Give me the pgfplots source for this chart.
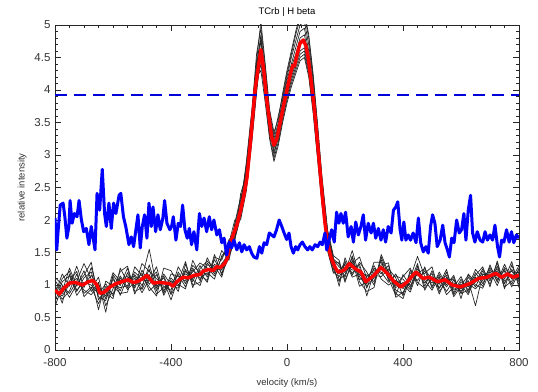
\documentclass[border=0pt]{standalone}
\usepackage{pgfplots}
\usepackage{pgfplotstable}
\pgfplotsset{compat=1.18}
\usepackage{fontspec}
\setmainfont{Liberation Sans}
\definecolor{ticktext}{RGB}{51,51,51}

\pgfplotstableread{
v b1 b2 b3 b4 b5 b6 b7 b8 b9 b10
-800 0.74 0.96 1.07 0.86 0.67 1.01 0.89 1.12 0.82 0.94
-775 1.05 0.78 0.90 1.17 0.98 0.72 0.87 1.00 1.10 0.83
-750 1.14 0.91 1.26 0.98 0.87 1.17 1.06 0.81 1.21 1.01
-725 0.90 1.17 0.98 1.29 1.06 0.84 1.21 1.01 0.92 1.10
-700 1.11 0.87 1.22 0.96 1.33 1.00 0.82 1.15 1.04 0.92
-675 1.20 0.97 0.90 1.27 1.09 1.15 0.94 1.35 1.00 0.85
-650 0.82 0.71 1.04 0.89 0.62 0.96 1.12 0.77 0.86 1.01
-625 0.76 0.98 0.58 0.88 1.06 0.83 0.68 0.94 1.02 0.79
-600 1.09 0.86 1.16 0.79 0.98 1.19 0.94 1.01 0.83 1.13
-575 0.91 1.14 0.99 1.26 0.87 1.06 1.21 0.96 1.11 0.84
-550 1.19 0.96 1.26 1.04 0.89 1.14 1.29 0.99 0.93 1.11
-525 0.95 1.16 0.86 1.10 1.28 0.98 0.90 1.20 1.05 1.13
-500 1.23 0.99 1.11 0.88 1.14 1.33 0.96 1.08 1.18 0.93
-475 1.01 1.24 1.55 1.09 0.97 1.21 1.31 1.06 0.91 1.16
-450 1.16 0.91 0.98 1.20 0.83 1.10 0.95 1.28 1.01 0.86
-425 0.91 1.14 1.06 0.84 1.26 0.98 1.17 0.87 1.11 0.96
-400 1.11 0.87 0.77 1.07 1.22 0.92 1.00 1.17 0.85 1.02
-375 0.98 1.20 1.10 0.90 1.01 1.28 0.95 1.13 1.05 1.16
-350 1.24 1.02 1.17 1.32 0.94 1.09 1.21 1.06 1.36 0.97
-325 1.05 1.26 1.10 1.00 1.38 1.20 1.08 1.30 0.96 1.23
-300 1.30 1.07 1.22 1.04 1.15 1.34 0.99 1.19 1.25 1.10
-275 1.12 1.34 1.16 1.42 1.07 1.26 1.31 1.04 1.37 1.19
-250 1.39 1.17 1.32 1.20 1.47 1.14 1.29 1.43 1.24 1.09
-225 1.18 1.42 1.23 1.53 1.15 1.33 1.12 1.38 1.30 1.45
-200 1.42 1.60 1.55 1.38 1.65 1.48 1.52 1.70 1.45 1.58
-180 1.70 1.92 1.75 1.85 2.00 1.68 1.88 1.78 1.95 1.72
-160 2.05 2.30 2.10 2.25 2.00 2.40 2.15 2.20 2.35 2.08
-140 2.50 2.75 2.55 2.85 2.45 2.70 2.65 2.90 2.58 2.80
-120 3.30 3.60 3.40 3.70 3.25 3.55 3.50 3.75 3.35 3.65
-105 4.05 4.35 4.10 4.45 3.95 4.30 4.20 4.55 4.00 4.40
-90 4.50 4.85 4.40 5.05 4.60 4.75 4.30 4.95 4.55 4.80
-75 3.95 4.25 3.90 4.40 4.00 4.20 3.80 4.35 4.10 4.15
-60 3.40 3.60 3.30 3.70 3.35 3.55 3.25 3.65 3.50 3.45
-45 3.05 3.25 2.95 3.35 3.10 3.20 2.90 3.30 3.15 3.00
-30 3.25 3.50 3.20 3.55 3.30 3.45 3.15 3.60 3.40 3.28
-15 3.60 3.85 3.55 3.95 3.65 3.80 3.50 3.90 3.75 3.62
0 3.90 4.20 3.85 4.30 3.95 4.15 3.80 4.25 4.05 3.92
15 4.15 4.50 4.10 4.60 4.25 4.40 4.05 4.55 4.35 4.20
30 4.35 4.75 4.30 4.90 4.45 4.65 4.25 4.85 4.55 4.40
45 4.55 5.00 4.50 5.15 4.70 4.90 4.45 5.10 4.80 4.60
60 4.60 5.05 4.55 5.20 4.75 4.95 4.50 5.15 4.85 4.65
75 4.30 4.70 4.25 4.85 4.45 4.60 4.20 4.80 4.50 4.35
90 3.75 4.15 3.70 4.25 3.85 4.05 3.65 4.20 3.95 3.80
105 3.05 3.40 3.00 3.50 3.15 3.35 2.95 3.45 3.25 3.10
120 2.35 2.60 2.30 2.70 2.40 2.55 2.25 2.65 2.50 2.38
140 1.60 1.80 1.55 1.85 1.65 1.75 1.52 1.82 1.70 1.62
160 1.25 1.40 1.20 1.45 1.30 1.38 1.18 1.42 1.35 1.28
180 1.05 1.32 1.13 1.38 0.98 1.28 1.23 1.08 1.35 1.17
200 1.34 1.12 1.27 1.04 1.42 1.19 1.31 1.16 1.07 1.37
225 1.18 1.45 1.27 1.38 1.15 1.53 1.23 1.42 1.33 1.12
250 1.32 1.08 1.28 0.98 1.35 1.13 1.23 1.05 1.43 1.17
275 0.95 1.16 0.83 1.05 1.20 0.98 1.13 0.90 1.10 1.01
300 1.26 1.05 1.20 1.30 1.00 1.11 1.23 0.96 1.15 1.35
325 1.17 1.39 1.24 1.09 1.47 1.31 1.20 1.43 1.13 1.35
350 1.30 1.07 1.22 1.00 1.19 1.34 1.04 1.15 1.25 1.10
375 0.92 1.14 0.87 1.07 0.99 0.81 1.17 0.96 1.11 0.84
400 0.86 1.09 0.79 1.01 1.13 0.89 0.94 1.04 0.83 1.16
425 1.19 0.96 1.11 0.89 1.26 1.04 1.14 0.93 1.23 0.99
450 1.07 1.29 1.44 1.21 0.99 1.33 1.14 1.25 1.04 1.18
475 1.22 0.98 1.13 1.03 1.28 0.92 1.18 1.07 0.95 1.25
500 0.98 1.22 1.03 1.18 0.95 1.13 1.28 0.92 1.10 1.07
525 1.16 0.95 1.10 0.86 1.20 1.01 0.90 1.13 1.05 0.95
550 0.97 1.20 0.90 1.12 1.00 1.24 1.05 0.85 1.15 1.09
575 1.12 0.88 1.08 0.93 1.15 0.85 1.03 0.97 0.82 1.08
600 0.87 1.09 0.90 1.01 0.79 1.05 0.94 1.13 0.99 0.87
625 1.12 0.92 1.07 0.85 1.17 0.97 1.02 0.88 1.15 0.92
650 0.97 1.19 0.68 1.12 1.04 1.24 0.94 1.15 1.00 1.09
675 1.22 1.02 1.17 0.98 1.25 1.10 1.07 1.28 0.95 1.17
700 1.01 1.24 1.09 1.31 1.06 1.16 1.27 0.97 1.21 1.12
725 1.29 1.07 1.22 1.04 1.34 1.14 1.10 1.37 0.99 1.25
750 1.02 1.24 1.06 1.32 0.94 1.21 1.16 0.97 1.27 1.09
775 1.24 1.01 1.16 1.09 1.31 0.97 1.21 1.06 1.12 1.36
800 1.05 1.26 1.11 1.30 1.00 1.20 1.08 1.23 1.15 0.96
}\blk

\pgfplotstableread{
v y
-800 0.92
-785 0.86
-770 0.95
-750 1.03
-730 1.04
-705 1.00
-685 1.05
-670 1.07
-655 1.00
-645 0.87
-630 0.89
-610 0.97
-590 1.02
-570 1.05
-548 1.08
-530 1.04
-517 1.05
-500 1.09
-483 1.15
-470 1.08
-461 1.03
-440 1.04
-420 1.03
-405 1.02
-393 0.98
-380 1.05
-358 1.12
-340 1.11
-320 1.15
-300 1.16
-290 1.21
-270 1.24
-255 1.22
-243 1.28
-230 1.27
-215 1.33
-205 1.42
-197 1.62
-185 1.78
-173 1.92
-160 2.15
-150 2.35
-138 2.65
-128 3.10
-118 3.60
-110 4.00
-99 4.35
-90 4.62
-80 4.30
-70 3.85
-53 3.28
-45 3.15
-35 3.25
-24 3.49
-10 3.80
0 4.00
12 4.25
20 4.38
26 4.37
35 4.55
45 4.72
56 4.77
65 4.68
73 4.50
91 3.85
100 3.45
110 2.95
120 2.45
131 1.95
141 1.62
152 1.42
165 1.28
176 1.20
188 1.21
200 1.24
215 1.33
235 1.25
255 1.20
272 1.05
300 1.15
324 1.27
345 1.18
370 1.05
393 0.97
415 1.05
444 1.20
470 1.10
490 1.12
520 1.05
545 1.08
570 1.00
597 0.97
630 1.02
660 1.10
690 1.12
720 1.18
740 1.12
760 1.17
780 1.12
800 1.15
}\redtab

\pgfplotstableread{
v y
-800 2.03
-794 1.54
-789 1.85
-782 2.23
-772 2.26
-766 2.05
-759 1.72
-752 1.90
-748 2.30
-741 1.95
-733 2.10
-724 2.05
-717 2.30
-709 2.00
-701 1.82
-692 1.87
-683 1.62
-675 1.90
-669 1.74
-662 1.54
-655 2.41
-646 2.15
-637 2.78
-629 2.10
-623 1.90
-614 2.26
-606 1.87
-598 2.26
-590 2.10
-579 2.38
-573 2.41
-564 2.05
-556 1.90
-545 1.62
-537 1.74
-529 1.59
-521 1.85
-514 2.08
-506 1.57
-499 1.90
-491 2.08
-483 1.72
-476 2.26
-468 1.90
-462 2.20
-453 1.82
-445 2.08
-437 1.85
-428 2.03
-422 2.30
-414 1.95
-404 1.85
-398 1.90
-392 2.05
-383 1.69
-375 1.95
-367 1.90
-360 2.23
-352 1.85
-344 1.72
-337 1.87
-329 1.62
-321 1.82
-311 1.54
-302 2.10
-294 1.90
-286 2.03
-277 1.82
-268 2.05
-260 1.85
-252 2.00
-242 1.77
-233 1.85
-225 1.65
-217 1.72
-208 1.46
-199 1.66
-191 1.57
-183 1.69
-173 1.54
-164 1.65
-156 1.51
-148 1.62
-139 1.54
-130 1.59
-122 1.49
-114 1.43
-104 1.41
-95 1.59
-87 1.49
-79 1.65
-70 1.62
-61 1.80
-53 1.77
-45 1.74
-36 1.85
-27 2.00
-18 1.90
-10 1.80
-1 1.70
7 1.80
14 1.59
22 1.49
30 1.59
37 1.54
45 1.62
53 1.66
62 1.59
71 1.54
79 1.59
87 1.54
97 1.62
106 1.59
114 1.66
122 1.62
131 1.80
137 1.54
145 1.69
154 1.85
163 1.66
171 2.12
179 1.95
186 2.10
194 1.95
202 2.12
211 1.74
221 1.90
229 1.66
237 1.97
246 1.77
255 1.90
263 2.08
271 1.69
280 1.95
290 1.80
298 1.95
306 1.72
315 1.87
324 1.69
332 1.85
340 1.66
349 1.90
359 1.80
367 2.15
375 2.20
382 2.28
390 1.85
396 1.69
403 1.97
410 1.69
418 1.77
426 1.69
435 1.80
445 1.65
453 2.03
461 1.65
470 1.51
479 1.59
487 1.49
495 1.90
502 2.08
510 1.95
518 1.59
528 1.69
537 1.92
545 1.65
553 1.54
560 1.43
568 1.72
576 1.65
585 2.00
594 1.80
602 1.85
610 2.10
617 1.69
625 2.15
633 2.38
640 1.80
648 1.66
656 1.82
666 1.69
675 1.66
683 1.82
691 1.69
700 1.77
709 1.69
717 1.92
726 1.59
733 1.43
740 1.69
748 1.66
757 1.85
766 1.66
774 1.82
782 1.65
791 1.77
800 1.72
}\bluetab

\begin{document}
\begin{tikzpicture}
\begin{axis}[
  name=ax,
  scale only axis,
  width=464bp, height=325bp,
  xmin=-800, xmax=800, ymin=0, ymax=5,
  xtick={-800,-400,0,400,800},
  ytick={0,0.5,1,1.5,2,2.5,3,3.5,4,4.5,5},
  minor x tick num=7,
  minor y tick num=4,
  tick align=inside,
  major tick length=6bp,
  minor tick length=3bp,
  axis line style={black!85, line width=0.9bp},
  every tick/.style={black!85, line width=0.7bp},
  /pgf/number format/assume math mode=true,
  yticklabel style={/pgf/number format/fixed, font=\fontsize{11.5bp}{13bp}\selectfont, text=ticktext, xshift=-1bp},
  xticklabel style={font=\fontsize{11.5bp}{13bp}\selectfont, text=ticktext, yshift=-5bp},
  xlabel={velocity (km/s)},
  ylabel={relative intensity},
  xlabel style={font=\fontsize{9.5bp}{11bp}\selectfont, text=ticktext, at={(axis description cs:0.5,-0.1015)}, anchor=center},
  ylabel style={font=\fontsize{9.5bp}{11bp}\selectfont, text=ticktext, at={(axis description cs:-0.071,0.5)}, anchor=center},
  title={TCrb | H beta},
  title style={font=\fontsize{9.5bp}{11bp}\selectfont, at={(axis description cs:0.5,1)}, anchor=base, yshift=5bp},
]
\pgfplotsinvokeforeach{1,...,10}{
  \addplot[black!85, line width=0.7bp, line join=round] table[x=v, y=b#1]{\blk};
}
\addplot[red, line width=3.4bp, line join=round] table[x=v, y=y]{\redtab};
\addplot[blue, line width=3bp, line join=round] table[x=v, y=y]{\bluetab};
\addplot[draw=blue!85!black, line width=1.5bp, dash pattern=on 12bp off 7bp] table[x=v, y=y]{
v y
-800 3.92
800 3.92
};
\end{axis}
\pgfresetboundingbox
\path ([shift={(-55bp,-42bp)}]ax.south west) rectangle ([shift={(19bp,25bp)}]ax.north east);
\end{tikzpicture}
\end{document}
